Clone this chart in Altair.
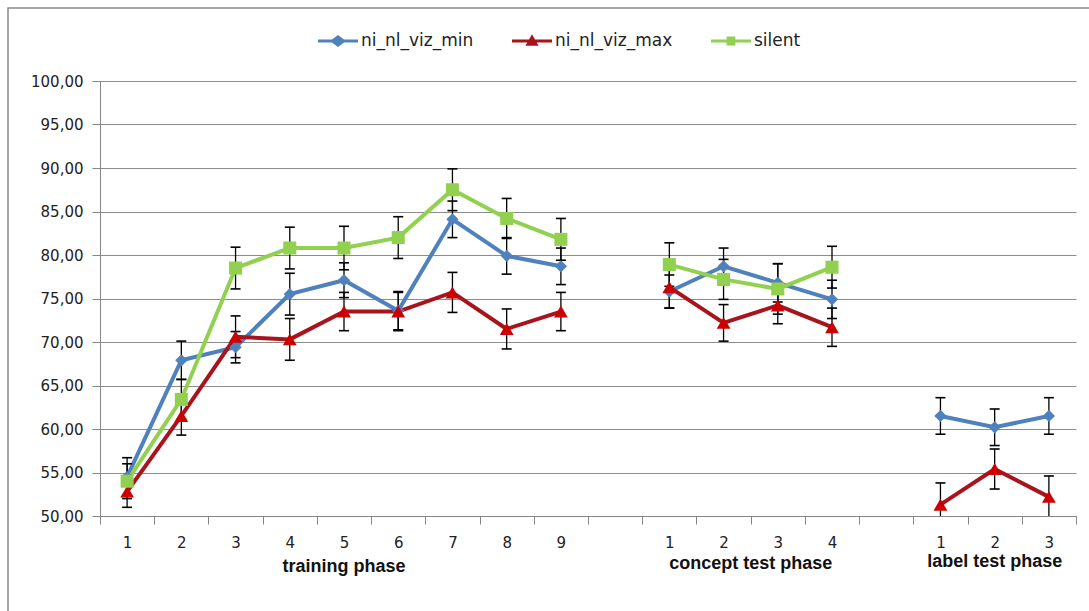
import altair as alt
import pandas as pd

# ---- data -------------------------------------------------------------
slots = ["t1", "t2", "t3", "t4", "t5", "t6", "t7", "t8", "t9", "_g1",
         "c1", "c2", "c3", "c4", "_g2", "l1", "l2", "l3"]
train_slots = ["t1", "t2", "t3", "t4", "t5", "t6", "t7", "t8", "t9"]
concept_slots = ["c1", "c2", "c3", "c4"]
label_slots = ["l1", "l2", "l3"]

series_names = ["ni_nl_viz_min", "ni_nl_viz_max", "silent"]

blue_train = [54.5, 67.9, 69.4, 75.5, 77.1, 73.6, 84.1, 79.9, 78.7]
blue_concept = [75.8, 78.7, 76.8, 74.9]
blue_label = [61.5, 60.2, 61.5]
blue_err_train = [2.2, 2.2, 1.8, 2.4, 2.0, 2.2, 2.1, 2.1, 2.1]
blue_err_concept = [1.9, 2.1, 2.2, 2.2]
blue_err_label = [2.1, 2.1, 2.1]

red_train = [52.8, 61.5, 70.6, 70.3, 73.5, 73.5, 75.7, 71.5, 73.5]
red_concept = [76.3, 72.2, 74.2, 71.7]
red_label = [51.3, 55.4, 52.2]
red_err_train = [1.8, 2.2, 2.4, 2.4, 2.2, 2.2, 2.3, 2.3, 2.2]
red_err_concept = [2.4, 2.1, 2.1, 2.2]
red_err_label = [2.5, 2.3, 2.4]

green_train = [54.0, 63.4, 78.5, 80.8, 80.8, 82.0, 87.5, 84.2, 81.8]
green_concept = [78.9, 77.2, 76.1, 78.6]
green_err_train = [2.0, 2.3, 2.4, 2.4, 2.5, 2.4, 2.4, 2.3, 2.4]
green_err_concept = [2.5, 2.3, 2.9, 2.4]

phase_titles = ["training phase", "concept test phase", "label test phase"]

# ---- table -----------------------------------------------------------
rows = []
def add(series, phase, slot_list, vals, errs):
    for i, (s, v, e) in enumerate(zip(slot_list, vals, errs)):
        rows.append({"series": series, "phase": phase, "slot": s, "idx": i,
                     "value": v, "lo": v - e, "hi": v + e})

add(series_names[0], "training", train_slots, blue_train, blue_err_train)
add(series_names[0], "concept", concept_slots, blue_concept, blue_err_concept)
add(series_names[0], "label", label_slots, blue_label, blue_err_label)
add(series_names[1], "training", train_slots, red_train, red_err_train)
add(series_names[1], "concept", concept_slots, red_concept, red_err_concept)
add(series_names[1], "label", label_slots, red_label, red_err_label)
add(series_names[2], "training", train_slots, green_train, green_err_train)
add(series_names[2], "concept", concept_slots, green_concept, green_err_concept)
df = pd.DataFrame(rows)

line_colors = ["#4F81BD", "#A8141B", "#92D050"]
marker_colors = ["#4F81BD", "#CC0000", "#92D050"]
cscale = alt.Scale(domain=series_names, range=line_colors)

xscale = alt.Scale(type="band", domain=slots, paddingInner=0, paddingOuter=0)
yscale = alt.Scale(domain=[50, 100], nice=False, zero=False)

AX = "#868686"
x_axis = alt.Axis(title=None, labelAngle=0, tickBand="extent", grid=False,
                  labelExpr="(!datum.value || indexof(datum.value, '_') == 0) ? '' : substring(datum.value, 1)",
                  domainColor=AX, tickColor=AX, tickSize=8, labelPadding=11,
                  labelFont="DejaVu Sans", labelFontSize=15, labelColor="#222222")
y_axis = alt.Axis(title=None, values=list(range(50, 101, 5)), grid=True,
                  gridColor="#8C8C8C", gridWidth=1,
                  labelExpr="format(datum.value, '.0f') + ',00'",
                  domainColor=AX, tickColor=AX, tickSize=8, labelPadding=9,
                  labelFont="DejaVu Sans", labelFontSize=15, labelColor="#222222")

def X(band=None):
    if band is None:
        return alt.X("slot:N", scale=xscale, axis=x_axis, title=None)
    return alt.X("slot:N", scale=xscale, axis=x_axis, title=None, bandPosition=band)

def Y(field="value"):
    return alt.Y(field + ":Q", scale=yscale, axis=y_axis, title=None)

base = alt.Chart(df)

frame = alt.Chart(pd.DataFrame({"a": [0]})).mark_rect(
    fillOpacity=0, stroke="#8A8A8A", strokeWidth=1.5
).encode(x=alt.value(-92), x2=alt.value(1010), y=alt.value(-73), y2=alt.value(540))

def series_line(i):
    return base.transform_filter(alt.datum.series == series_names[i]).mark_line(
        strokeWidth=4, color=line_colors[i]
    ).encode(x=X(), y=Y(), detail="phase:N", order="idx:Q")

err_rule = base.mark_rule(color="black", strokeWidth=1.3, clip=True).encode(
    x=X(), y=Y("lo"), y2="hi:Q")
cap_lo = base.mark_tick(color="black", size=10, thickness=1.6, clip=True, opacity=1).encode(
    x=X(), y=Y("lo"))
cap_hi = base.mark_tick(color="black", size=10, thickness=1.6, clip=True, opacity=1).encode(
    x=X(), y=Y("hi"))

shapes = ["diamond", "triangle-up", "square"]
sizes = [150, 190, 170]
def series_points(i):
    return base.transform_filter(alt.datum.series == series_names[i]).mark_point(
        shape=shapes[i], filled=True, size=sizes[i], opacity=1, color=marker_colors[i]
    ).encode(x=X(), y=Y())

legend_paths = [
    "M-1,-0.07H-0.3L0,-0.3L0.3,-0.07H1V0.07H0.3L0,0.3L-0.3,0.07H-1Z",
    "M-1,-0.07H1V0.07H-1Z M0,-0.34L0.33,0.24L-0.33,0.24Z",
    "M-1,-0.07H1V0.07H-1Z M-0.22,-0.22H0.22V0.22H-0.22Z",
]
leg = alt.Legend(orient="none", legendX=218, legendY=-60, direction="horizontal",
                 title=None, labelFont="DejaVu Sans", labelFontSize=17,
                 labelColor="#222222", symbolSize=1600, symbolStrokeWidth=0,
                 columnPadding=38, labelOffset=3, padding=0)
ghost = base.transform_filter("false").mark_point(filled=True, opacity=1).encode(
    x=X(), y=Y(),
    color=alt.Color("series:N", scale=cscale, legend=leg),
    shape=alt.Shape("series:N", scale=alt.Scale(domain=series_names, range=legend_paths),
                    legend=leg))

def phase_text(slot, title, ypix, band):
    return alt.Chart(pd.DataFrame({"slot": [slot], "t": [title]})).mark_text(
        font="Liberation Sans", fontWeight="bold", fontSize=18,
        color="#111111", baseline="middle", align="center"
    ).encode(x=X(band), y=alt.value(ypix), text="t:N")

txt_train = phase_text("t5", phase_titles[0], 486, 0.5)
txt_concept = phase_text("c2", phase_titles[1], 483, 1.0)
txt_label = phase_text("l2", phase_titles[2], 481, 0.5)

chart = alt.layer(
    frame, series_line(0), series_line(1), series_line(2),
    err_rule, cap_lo, cap_hi,
    series_points(0), series_points(1), series_points(2), ghost,
    txt_train, txt_concept, txt_label
).properties(
    width=976, height=435, autosize="none",
    padding={"left": 100, "top": 81, "right": 13, "bottom": 95},
    background="white"
).configure_view(stroke=None)

chart.save("out.html", embed_options={"renderer": "svg", "actions": False})
